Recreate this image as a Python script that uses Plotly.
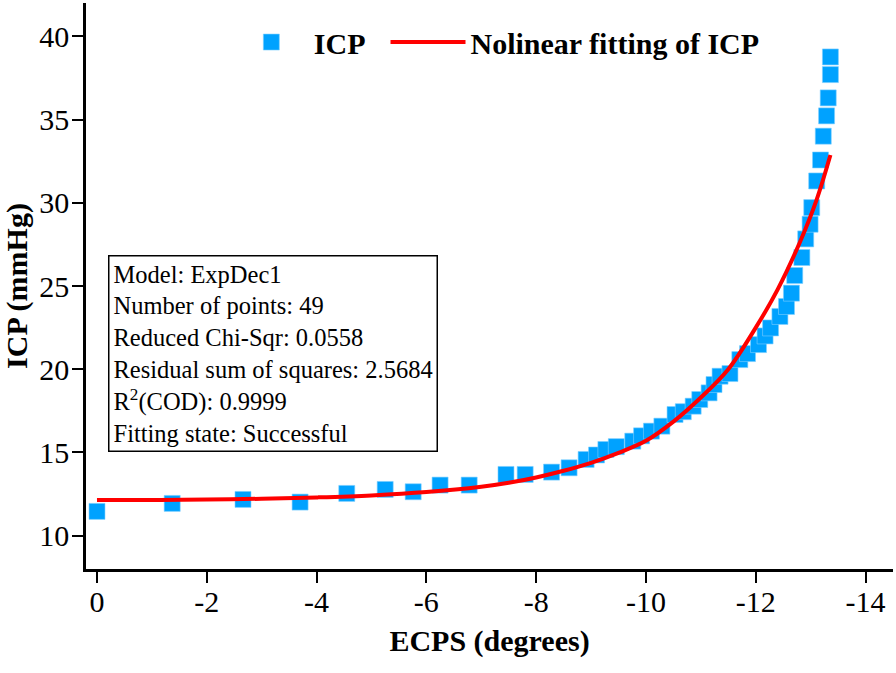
# plot.py
# ICP vs ECPS with the nonlinear (ExpDec1) fitting curve

import plotly.graph_objects as go

# --- Data ---
ecps = [0.0, -1.37, -2.66, -3.70, -4.55, -5.25, -5.76, -6.25, -6.78, -7.45,
        -7.80, -8.28, -8.60, -8.91, -9.10, -9.27, -9.46, -9.76, -9.92, -10.10,
        -10.29, -10.53, -10.68, -10.86, -10.98, -11.15, -11.24, -11.35, -11.53, -11.71,
        -11.85, -12.05, -12.17, -12.27, -12.44, -12.56, -12.65, -12.71, -12.84, -12.91,
        -12.99, -13.02, -13.11, -13.18, -13.23, -13.29, -13.32, -13.36, -13.36]
icp = [11.46, 11.94, 12.18, 12.02, 12.54, 12.78, 12.64, 13.04, 13.04, 13.68,
       13.68, 13.82, 14.08, 14.58, 14.85, 15.18, 15.35, 15.68, 16.00, 16.28,
       16.58, 17.28, 17.45, 17.78, 18.18, 18.58, 19.08, 19.58, 19.74, 20.58,
       20.94, 21.48, 22.00, 22.48, 23.17, 23.77, 24.57, 25.63, 26.71, 27.83,
       28.71, 29.71, 31.31, 32.57, 34.00, 35.22, 36.30, 37.70, 38.76]

# fitted curve, points
fit_x = [0.0, -1.0, -2.0, -3.0, -4.0, -5.0, -6.0, -7.0, -7.5, -8.0,
         -8.5, -9.0, -9.5, -10.0, -10.5, -11.0, -11.5, -12.0, -12.4, -12.8,
         -13.1, -13.36]
fit_y = [12.14, 12.15, 12.17, 12.22, 12.30, 12.42, 12.62, 12.94, 13.18, 13.50,
         13.90, 14.38, 14.98, 15.70, 16.85, 18.30, 20.00, 22.50, 24.80, 27.60,
         30.10, 32.87]

x_ticks = [0, -2, -4, -6, -8, -10, -12, -14]
x_tick_text = ["0", "-2", "-4", "-6", "-8", "-10", "-12", "-14"]
y_ticks = [10, 15, 20, 25, 30, 35, 40]

fit_info = [
    "Model: ExpDec1",
    "Number of points: 49",
    "Reduced Chi-Sqr: 0.0558",
    "Residual sum of squares: 2.5684",
    "R<sup>2</sup>(COD): 0.9999",
    "Fitting state: Successful",
]

FONT = "Liberation Serif, Times New Roman, serif"

fig = go.Figure()

# two no-break spaces after the name give the wider gap between legend entries
fig.add_trace(go.Scatter(
    x=ecps, y=icp, mode="markers", name="ICP\u00a0\u00a0",
    marker=dict(symbol="square", size=16, color="#00A2FF",
                line=dict(width=0.6, color="#7FD0FF")),
))

fig.add_trace(go.Scatter(
    x=fit_x, y=fit_y, mode="lines", name="Nolinear fitting of ICP",
    line=dict(color="#FF0000", width=4, shape="spline"),
))

# fitting report box
fig.add_annotation(
    xref="paper", yref="paper", x=0.027, y=0.555,
    xanchor="left", yanchor="top", align="left",
    text="<br>".join(fit_info), showarrow=False,
    font=dict(family=FONT, size=24.5, color="black"),
    bordercolor="black", borderwidth=1.5, borderpad=4, bgcolor="white",
)

fig.update_layout(
    width=896, height=673,
    margin=dict(l=86, r=3, t=3, b=104),
    plot_bgcolor="white", paper_bgcolor="white",
    font=dict(family=FONT, size=30, color="black"),
    showlegend=True,
    legend=dict(
        orientation="h", x=0.177, y=0.931, xanchor="left", yanchor="middle",
        itemwidth=75, bgcolor="rgba(0,0,0,0)",
        font=dict(family=FONT, size=30, color="black", weight="bold"),
    ),
)

fig.update_xaxes(
    range=[0.2, -14.5], showgrid=False, zeroline=False,
    showline=True, linecolor="black", linewidth=2.5,
    ticks="outside", ticklen=11, tickwidth=2, tickcolor="black",
    tickvals=x_ticks, ticktext=x_tick_text, ticklabelstandoff=-7,
    tickfont=dict(family=FONT, size=30),
    title=dict(text="<b>ECPS (degrees)</b>", standoff=14,
               font=dict(family=FONT, size=30)),
)

fig.update_yaxes(
    range=[8, 42], showgrid=False, zeroline=False,
    showline=True, linecolor="black", linewidth=2.5,
    ticks="outside", ticklen=11, tickwidth=2, tickcolor="black",
    tickvals=y_ticks, ticklabelstandoff=-3,
    tickfont=dict(family=FONT, size=30),
    title=dict(text="<b>ICP (mmHg)</b>", standoff=8,
               font=dict(family=FONT, size=30)),
)

# the page body has a default 8px margin: drop it so the figure sits at the corner
fig.write_html("out.html", config={"displayModeBar": False},
               post_script="document.body.style.margin='0';")
print("saved out.html")
